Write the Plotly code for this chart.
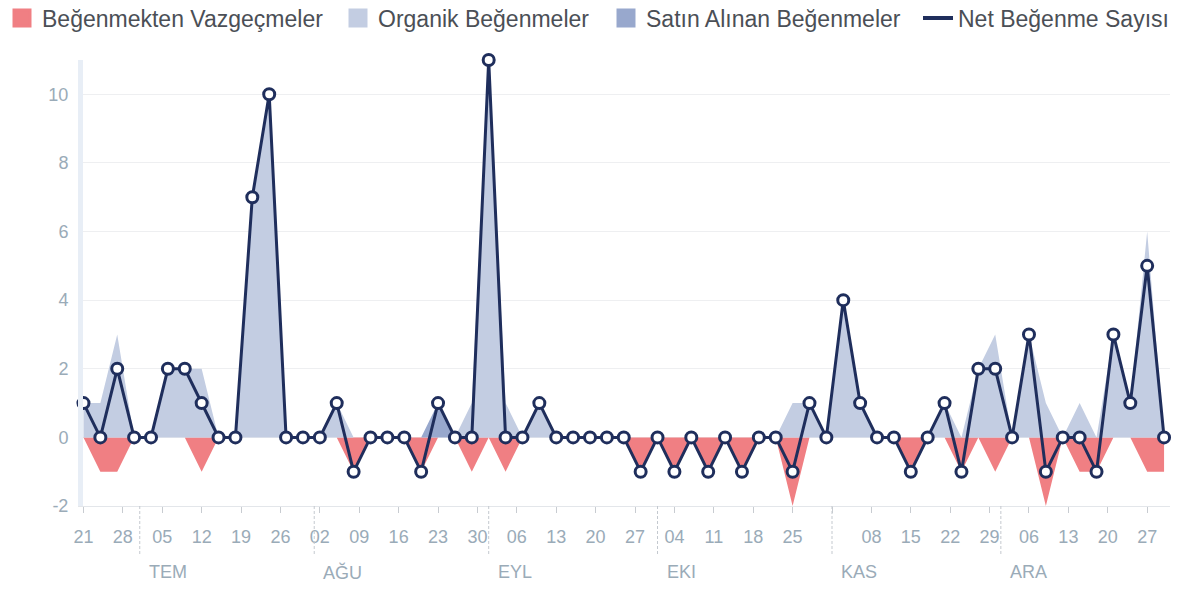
import pandas as pd
import plotly.graph_objects as go

# ---- data (every 3 days from 21 Jun to 30 Dec) ----
start_date = "2017-06-21"
n_points = 65
dates = pd.date_range(start_date, periods=n_points, freq="3D")

net_likes = [1, 0, 2, 0, 0, 2, 2, 1, 0, 0, 7, 10, 0, 0, 0, 1, -1, 0, 0, 0, -1, 1, 0,
             0, 11, 0, 0, 1, 0, 0, 0, 0, 0, -1, 0, -1, 0, -1, 0, -1, 0, 0, -1, 1, 0,
             4, 1, 0, 0, -1, 0, 1, -1, 2, 2, 0, 3, -1, 0, 0, -1, 3, 1, 5, 0]
organic_likes = [1, 1, 3, 0, 0, 2, 2, 2, 0, 0, 7, 10, 0, 0, 0, 1, 0, 0, 0, 0, 0, 0, 0,
                 1, 11, 1, 0, 1, 0, 0, 0, 0, 0, 0, 0, 0, 0, 0, 0, 0, 0, 0, 1, 1, 0,
                 4, 1, 0, 0, 0, 0, 1, 0, 2, 3, 0, 3, 1, 0, 1, 0, 3, 1, 6, 0]
paid_likes = [0] * 21 + [1] + [0] * 43
unlikes = [0, 1, 1, 0, 0, 0, 0, 1, 0, 0, 0, 0, 0, 0, 0, 0, 1, 0, 0, 0, 1, 0, 0,
           1, 0, 1, 0, 0, 0, 0, 0, 0, 0, 1, 0, 1, 0, 1, 0, 1, 0, 0, 2, 0, 0,
           0, 0, 0, 0, 1, 0, 0, 1, 0, 1, 0, 0, 2, 0, 1, 1, 0, 0, 1, 1]

series_names = ["Beğenmekten Vazgeçmeler", "Organik Beğenmeler",
                "Satın Alınan Beğenmeler", "Net Beğenme Sayısı"]

month_names = ["TEM", "AĞU", "EYL", "EKI", "KAS", "ARA"]
month_starts = ["2017-07-01", "2017-08-01", "2017-09-01", "2017-10-01",
                "2017-11-01", "2017-12-01"]

y_ticks = [-2, 0, 2, 4, 6, 8, 10]
y_tick_text = ["-2", "0", "2", "4", "6", "8", "10"]

# weekly day ticks; the one sitting on the Nov separator has no label
tick_dates = pd.date_range("2017-06-21", "2017-12-27", freq="7D")
hidden_labels = ["2017-11-01"]
tick_text = ["" if d.strftime("%Y-%m-%d") in hidden_labels else d.strftime("%d")
             for d in tick_dates]

# ---- styles ----
RED = "#f07f83"
LIGHT = "#c3cde2"
PAID = "#98a8cd"
NAVY = "#1f2e5c"
TICK = "#9aabb8"
TEXT = "#4b4f56"
FONT = "Liberation Sans"
W, H = 1177, 600

fig = go.Figure()

# areas
fig.add_trace(go.Scatter(x=dates, y=[-u for u in unlikes], mode="lines",
                         line=dict(width=0, color=RED), fill="tozeroy",
                         fillcolor=RED, showlegend=False, hoverinfo="skip"))
fig.add_trace(go.Scatter(x=dates, y=organic_likes, mode="lines", stackgroup="pos",
                         line=dict(width=0, color=LIGHT), fillcolor=LIGHT,
                         showlegend=False, hoverinfo="skip"))
fig.add_trace(go.Scatter(x=dates, y=paid_likes, mode="lines", stackgroup="pos",
                         line=dict(width=0, color=PAID), fillcolor=PAID,
                         showlegend=False, hoverinfo="skip"))
# net line
fig.add_trace(go.Scatter(x=dates, y=net_likes, mode="lines+markers",
                         line=dict(width=3, color=NAVY), cliponaxis=False,
                         marker=dict(size=11, color="white",
                                     line=dict(width=3, color=NAVY)),
                         showlegend=False))

# legend entries, each in its own legend box
legend_keys = ["legend", "legend2", "legend3", "legend4"]
legend_x_px = [2, 338, 606, 918]
for name, col, lk in zip(series_names[:3], [RED, LIGHT, PAID], legend_keys[:3]):
    fig.add_trace(go.Scatter(x=[None], y=[None], mode="markers", name=name, legend=lk,
                             marker=dict(symbol="square", size=16, color=col,
                                         line=dict(width=3, color=col))))
fig.add_trace(go.Scatter(x=[None], y=[None], mode="lines", name=series_names[3],
                         legend=legend_keys[3], line=dict(width=4, color=NAVY)))

legend_common = dict(orientation="h", xref="container", yref="container",
                     xanchor="left", yanchor="middle", y=1 - 18 / H,
                     font=dict(family=FONT, size=23, color=TEXT),
                     itemwidth=30, bgcolor="rgba(0,0,0,0)")
for lk, px in zip(legend_keys, legend_x_px):
    fig.update_layout({lk: dict(legend_common, x=px / W)})

# month separators and labels
for ms, mn in zip(month_starts, month_names):
    fig.add_shape(type="line", x0=ms, x1=ms, xref="x", yref="paper",
                  y0=0, y1=-0.11, line=dict(color="#c4c9cf", width=1, dash="3px,2px"))
    fig.add_annotation(x=ms, y=-0.148, xref="x", yref="paper", text=mn,
                       showarrow=False, xanchor="left", yanchor="middle", xshift=7,
                       font=dict(family=FONT, size=18, color=TICK))

fig.update_layout(
    width=W, height=H,
    margin=dict(l=83, r=7, t=60, b=94),
    paper_bgcolor="white", plot_bgcolor="white",
    font=dict(family=FONT, color=TEXT),
    xaxis=dict(type="date", range=["2017-06-20 22:00", "2017-12-31 01:20"],
               tickvals=tick_dates, ticktext=tick_text, ticks="outside",
               ticklen=6, tickcolor="#c8ccd1", showgrid=False, zeroline=False,
               showline=True, linecolor="#e3e6ea", linewidth=1, ticklabelstandoff=8,
               tickfont=dict(family=FONT, size=18, color=TICK)),
    yaxis=dict(range=[-2, 11], tickvals=y_ticks, ticktext=y_tick_text,
               showgrid=True, gridcolor="#eeeff1",
               gridwidth=1, zeroline=False, showline=True, linecolor="#e8eef6",
               linewidth=5, ticks="", ticklabelstandoff=6,
               tickfont=dict(family=FONT, size=18, color=TICK)),
)

# remove the page's default body margin so the figure sits at the window origin
fig.write_html("out.html", config={"displayModeBar": False},
               post_script="document.body.style.margin='0';")
